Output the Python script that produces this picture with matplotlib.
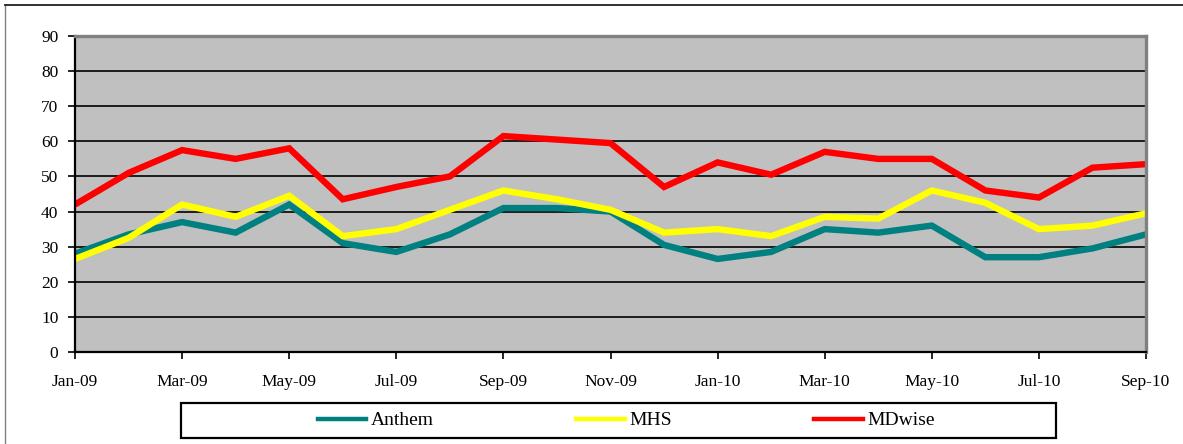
import matplotlib
matplotlib.use("Agg")
import matplotlib.pyplot as plt
from matplotlib.patches import Rectangle
from matplotlib.lines import Line2D

months = ["Jan-09", "Feb-09", "Mar-09", "Apr-09", "May-09", "Jun-09", "Jul-09",
          "Aug-09", "Sep-09", "Oct-09", "Nov-09", "Dec-09", "Jan-10", "Feb-10",
          "Mar-10", "Apr-10", "May-10", "Jun-10", "Jul-10", "Aug-10", "Sep-10"]
anthem = [28, 33.5, 37, 34, 42, 31, 28.5, 33.5, 41, 41, 40, 30.5, 26.5, 28.5,
          35, 34, 36, 27, 27, 29.5, 33.5]
mhs = [26.5, 32.5, 42, 38.5, 44.5, 33, 35, 40.5, 46, 43.5, 40.5, 34, 35, 33,
       38.5, 38, 46, 42.5, 35, 36, 39.5]
mdwise = [42, 51, 57.5, 55, 58, 43.5, 47, 50, 61.5, 60.5, 59.5, 47, 54, 50.5,
          57, 55, 55, 46, 44, 52.5, 53.5]
series_names = ["Anthem", "MHS", "MDwise"]
series_colors = ["#008080", "#FFFF00", "#FF0000"]

plt.rcParams['font.family'] = ['Liberation Serif', 'DejaVu Serif']

W, H = 1183, 444
fig = plt.figure(figsize=(W / 100, H / 100), dpi=100)
fig.patch.set_facecolor("white")

# outer border: gray left edge, dark top edge
fig.add_artist(Line2D([4.5 / W, 4.5 / W], [0, (H - 5.5) / H], transform=fig.transFigure,
                      color="#808080", linewidth=1.0))
fig.add_artist(Line2D([4.5 / W, 1.0], [(H - 5.5) / H, (H - 5.5) / H], transform=fig.transFigure,
                      color="#202020", linewidth=1.3))

left, right, top, bottom = 75, 1146, 36, 352
ax = fig.add_axes([left / W, (H - bottom) / H, (right - left) / W, (bottom - top) / H])
ax.set_facecolor("#C0C0C0")

x = list(range(len(months)))
for vals, name, col in zip([anthem, mhs, mdwise], series_names, series_colors):
    ax.plot(x, vals, color=col, linewidth=4.6, label=name, solid_joinstyle="miter",
            solid_capstyle="butt")

ax.set_xlim(0, len(months) - 1)
ax.set_ylim(0, 90)
ax.set_yticks(range(0, 91, 10))
ax.set_xticks(x[::2])
ax.set_xticklabels(months[::2], fontsize=12.5)
ax.tick_params(axis="y", labelsize=12.5, direction="out", length=5, width=1.2, pad=7)
ax.tick_params(axis="x", direction="out", length=5, width=1.2, pad=11)
ax.yaxis.grid(True, color="black", linewidth=1.2)
ax.set_axisbelow(True)
for s in ["top", "right"]:
    ax.spines[s].set_color("#808080")
    ax.spines[s].set_linewidth(2.4)
for s in ["left", "bottom"]:
    ax.spines[s].set_color("black")
    ax.spines[s].set_linewidth(1.6)

# legend box
lx0, lx1, ly0, ly1 = 181, 1056, 403, 438
fig.add_artist(Rectangle((lx0 / W, (H - ly1) / H), (lx1 - lx0) / W, (ly1 - ly0) / H,
                         transform=fig.transFigure, fill=False, edgecolor="black", linewidth=1.6))
handles = [Line2D([0], [0], color=c, linewidth=3.2) for c in series_colors]
fig.legend(handles, series_names, loc="center", ncol=3, frameon=False,
           bbox_to_anchor=((lx0 + lx1) / 2 / W + 8 / W, (H - (ly0 + ly1) / 2) / H),
           fontsize=14, handlelength=2.5, handletextpad=0.25, columnspacing=7.3,
           borderpad=0.1)

fig.savefig("out.png", dpi=100)
